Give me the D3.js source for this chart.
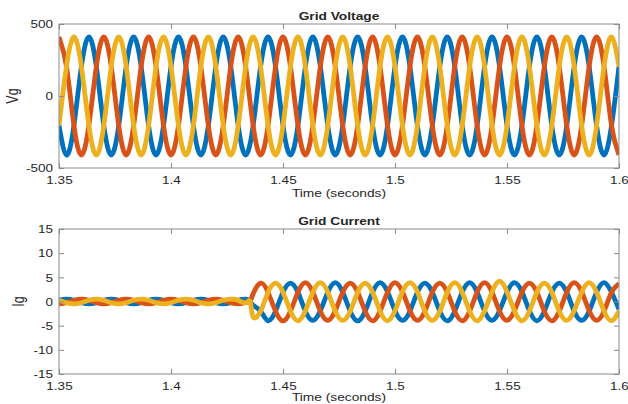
<!DOCTYPE html>
<html><head><meta charset="utf-8">
<script src="https://cdn.jsdelivr.net/npm/d3@7"></script>
<style>body{margin:0;background:#fff} svg{display:block} text{font-family:"Liberation Sans",Arial,sans-serif;fill:#262626}</style>
</head><body><svg id="c" width="628" height="404"></svg>
<script>
// ---------- data ----------
const timeV = [
 1.35,1.35333,1.35667,1.36,1.36333,1.36667,
 1.37,1.37333,1.37667,1.38,1.38333,1.38667,
 1.39,1.39333,1.39667,1.40,1.40333,1.40667,
 1.41,1.41333,1.41667,1.42,1.42333,1.42667,
 1.43,1.43333,1.43667,1.44,1.44333,1.44667,
 1.45,1.45333,1.45667,1.46,1.46333,1.46667,
 1.47,1.47333,1.47667,1.48,1.48333,1.48667,
 1.49,1.49333,1.49667,1.50,1.50333,1.50667,
 1.51,1.51333,1.51667,1.52,1.52333,1.52667,
 1.53,1.53333,1.53667,1.54,1.54333,1.54667,
 1.55,1.55333,1.55667,1.56,1.56333,1.56667,
 1.57,1.57333,1.57667,1.58,1.58333,1.58667,
 1.59,1.59333,1.59667,1.60];
const vgRed = [
 410,205,-205,-410,-205,205, 410,205,-205,-410,-205,205,
 410,205,-205,-410,-205,205, 410,205,-205,-410,-205,205,
 410,205,-205,-410,-205,205, 410,205,-205,-410,-205,205,
 410,205,-205,-410,-205,205, 410,205,-205,-410,-205,205,
 410,205,-205,-410,-205,205, 410,205,-205,-410,-205,205,
 410,205,-205,-410,-205,205, 410,205,-205,-410,-205,205,
 410,205,-205,-410];
const vgYellow = [
 -205,205,410,205,-205,-410, -205,205,410,205,-205,-410,
 -205,205,410,205,-205,-410, -205,205,410,205,-205,-410,
 -205,205,410,205,-205,-410, -205,205,410,205,-205,-410,
 -205,205,410,205,-205,-410, -205,205,410,205,-205,-410,
 -205,205,410,205,-205,-410, -205,205,410,205,-205,-410,
 -205,205,410,205,-205,-410, -205,205,410,205,-205,-410,
 -205,205,410,205];
const vgBlue = [
 -205,-410,-205,205,410,205, -205,-410,-205,205,410,205,
 -205,-410,-205,205,410,205, -205,-410,-205,205,410,205,
 -205,-410,-205,205,410,205, -205,-410,-205,205,410,205,
 -205,-410,-205,205,410,205, -205,-410,-205,205,410,205,
 -205,-410,-205,205,410,205, -205,-410,-205,205,410,205,
 -205,-410,-205,205,410,205, -205,-410,-205,205,410,205,
 -205,-410,-205,205];

const timeI = [
 1.35,1.35333,1.35667,1.36,1.36333,1.36667,
 1.37,1.37333,1.37667,1.38,1.38333,1.38667,
 1.39,1.39333,1.39667,1.40,1.40333,1.40667,
 1.41,1.41333,1.41667,1.42,1.42333,1.42667,
 1.43,1.43333,1.4354,
 1.43667,
 1.44,1.44333,1.44667,1.45,1.45333,1.45667,
 1.46,1.46333,1.46667,1.47,1.47333,1.47667,
 1.48,1.48333,1.48667,1.49,1.49333,1.49667,
 1.50,1.50333,1.50667,1.51,1.51333,1.51667,
 1.52,1.52333,1.52667,1.53,1.53333,1.53667,
 1.54,1.54333,1.54667,1.55,1.55333,1.55667,
 1.56,1.56333,1.56667,1.57,1.57333,1.57667,
 1.58,1.58333,1.58667,1.59,1.59333,1.59667,
 1.60];
const igRed = [
 -0.5,-0.25,0.25,0.5,0.25,-0.25, -0.5,-0.25,0.25,0.5,0.25,-0.25,
 -0.5,-0.25,0.25,0.5,0.25,-0.25, -0.5,-0.25,0.25,0.5,0.25,-0.25,
 -0.5,-0.25, 0.1,
 1.6,
 3.8,1.9,-2.0,-4.0,-2.0,1.9,
 3.9,1.9,-2.0,-3.9,-1.9,1.9,
 3.8,1.9,-2.0,-4.0,-2.0,1.9,
 3.9,2.0,-1.9,-3.9,-2.0,1.9,
 3.8,1.9,-2.0,-4.0,-2.0,1.9,
 3.9,1.9,-2.0,-3.9,-1.9,1.9,
 3.8,1.9,-2.0,-4.0,-2.0,1.9,
 3.9,2.0,-1.9,-3.9,-2.0,1.9,
 3.7];
const igYellow = [
 0.25,-0.25,-0.5,-0.25,0.25,0.5, 0.25,-0.25,-0.5,-0.25,0.25,0.5,
 0.25,-0.25,-0.5,-0.25,0.25,0.5, 0.25,-0.25,-0.5,-0.25,0.25,0.5,
 0.25,-0.25, -0.1,
 -3.2,
 -2.0,1.9,3.8,1.9,-2.0,-4.0,
 -1.9,1.9,3.9,1.9,-2.0,-3.9,
 -2.0,1.9,3.8,1.9,-2.0,-4.0,
 -1.9,2.0,3.9,2.0,-2.0,-3.9,
 -2.0,1.9,3.9,1.9,-2.0,-4.0,
 -1.9,2.0,4.2,2.0,-1.9,-4.0,
 -2.0,1.9,3.8,1.9,-2.0,-3.9,
 -1.9,1.9,3.9,1.9,-2.0,-4.0,
 -2.0];
const igBlue = [
 0.25,0.5,0.25,-0.25,-0.5,-0.25, 0.25,0.5,0.25,-0.25,-0.5,-0.25,
 0.25,0.5,0.25,-0.25,-0.5,-0.25, 0.25,0.5,0.25,-0.25,-0.5,-0.25,
 0.25,0.5, 0.0,
 -0.8,
 -2.0,-4.0,-2.0,1.9,3.8,1.9,
 -2.0,-3.9,-1.9,1.9,3.9,1.9,
 -2.0,-4.0,-2.0,1.9,3.9,2.0,
 -1.9,-3.9,-2.0,1.9,3.8,1.9,
 -2.0,-4.0,-2.0,1.9,3.9,1.9,
 -2.0,-3.9,-1.9,1.9,3.9,2.0,
 -1.9,-4.0,-2.0,1.9,3.8,1.9,
 -2.0,-3.9,-2.0,1.9,3.9,1.9,
 -1.6];

const xTicks = [1.35,1.4,1.45,1.5,1.55,1.6];
const xTickLabels = ["1.35","1.4","1.45","1.5","1.55","1.6"];
const vTicks = [-500,0,500];
const vTickLabels = ["-500","0","500"];
const iTicks = [-15,-10,-5,0,5,10,15];
const iTickLabels = ["-15","-10","-5","0","5","10","15"];
const seriesNames = ["Phase A","Phase B","Phase C"];
const seriesColors = ["#0072BD","#D95319","#EDB120"];

// ---------- drawing ----------
const SX = 1.25; // horizontal stretch of the original picture
const svg = d3.select("#c");
const L = 59, R = 619;
const x = d3.scaleLinear().domain([1.35,1.6]).range([L,R]);

function stretchText(g, px, py, str, size, anchor, bold, rot){
  return g.append("text")
    .attr("transform", `translate(${px},${py}) scale(${SX},1)` + (rot?` rotate(${rot})`:""))
    .attr("text-anchor", anchor).style("font-size", size+"px")
    .style("font-weight", bold?"bold":"normal").text(str);
}

function panel(cfg){
  const y = d3.scaleLinear().domain(cfg.domain).range([cfg.bottom, cfg.top]);
  const g = svg.append("g");
  const cid = "clip"+cfg.id;
  g.append("clipPath").attr("id",cid).append("rect")
    .attr("x",L).attr("y",cfg.top).attr("width",R-L).attr("height",cfg.bottom-cfg.top);

  const line = d3.line().x((d,i)=>x(cfg.time[i])).y(d=>y(d)).curve(d3.curveNatural);
  const lg = g.append("g").attr("clip-path",`url(#${cid})`);
  cfg.series.forEach((s,k)=>{
    lg.append("path").datum(s).attr("d",line)
      .attr("fill","none").attr("stroke",seriesColors[k])
      .attr("stroke-width",4.8).attr("stroke-linejoin","round");
  });

  g.append("rect").attr("x",L).attr("y",cfg.top).attr("width",R-L).attr("height",cfg.bottom-cfg.top)
    .attr("fill","none").attr("stroke","#8a8a8a").attr("stroke-width",1);

  const style = a => { a.select(".domain").remove(); a.selectAll(".tick line").attr("stroke","#8a8a8a"); };

  const xb = g.append("g").attr("transform",`translate(0,${cfg.bottom})`)
    .call(d3.axisBottom(x).tickValues(xTicks).tickFormat((d,i)=>xTickLabels[i]).tickSizeInner(-5).tickSizeOuter(0));
  style(xb);
  xb.selectAll(".tick text").attr("y",null).attr("dy",null)
    .attr("transform",`translate(0,16) scale(${SX},1)`).style("font-size","10.8px").style("font-family",null).attr("fill","#262626");
  const xt = g.append("g").attr("transform",`translate(0,${cfg.top})`)
    .call(d3.axisTop(x).tickValues(xTicks).tickSizeInner(-5).tickSizeOuter(0));
  style(xt); xt.selectAll(".tick text").remove();

  const yl = g.append("g").attr("transform",`translate(${L},0)`)
    .call(d3.axisLeft(y).tickValues(cfg.ticks).tickFormat((d,i)=>cfg.tickLabels[i]).tickSizeInner(-5).tickSizeOuter(0));
  style(yl);
  yl.selectAll(".tick text").attr("x",null).attr("dy",null)
    .attr("transform",`translate(-6,3.8) scale(${SX},1)`).style("font-size","10.8px").style("font-family",null).attr("fill","#262626");
  const yr = g.append("g").attr("transform",`translate(${R},0)`)
    .call(d3.axisRight(y).tickValues(cfg.ticks).tickSizeInner(-5).tickSizeOuter(0));
  style(yr); yr.selectAll(".tick text").remove();

  stretchText(g, (L+R)/2, cfg.top-4, cfg.title, 11, "middle", true);
  stretchText(g, (L+R)/2, cfg.bottom+cfg.xlabDy, "Time (seconds)", 11, "middle", false);
  stretchText(g, cfg.ylabX, (cfg.top+cfg.bottom)/2, cfg.ylabel, 12.5, "middle", false, -90);
}

panel({id:1, top:24, bottom:168, domain:[-500,500], ticks:vTicks, tickLabels:vTickLabels,
  time:timeV, series:[vgBlue,vgRed,vgYellow], title:"Grid Voltage", ylabel:"Vg", ylabX:18, xlabDy:29});
panel({id:2, top:229, bottom:374, domain:[-15,15], ticks:iTicks, tickLabels:iTickLabels,
  time:timeI, series:[igBlue,igRed,igYellow], title:"Grid Current", ylabel:"Ig", ylabX:24, xlabDy:26.5});
</script></body></html>
